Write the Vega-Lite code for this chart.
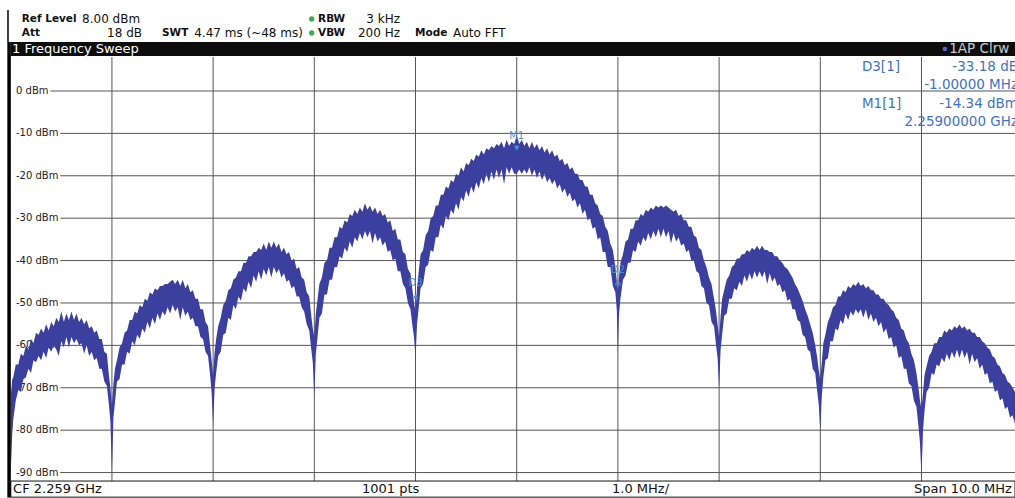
{
"$schema": "https://vega.github.io/schema/vega-lite/v6.json",
"width": 1015, "height": 498,
"autosize": {"type": "none"},
"padding": 0,
"background": "white",
"config": {"view": {"stroke": null}, "axis": {"disable": true}, "font": "DejaVu Sans"},
"datasets": {
"trace": [
{"f":-5.000,"lo":-90,"hi":-72},{"f":-4.985,"lo":-81,"hi":-68},{"f":-4.975,"lo":-77.5,"hi":-67.5},{"f":-4.950,"lo":-73,"hi":-64.5},{"f":-4.925,"lo":-70.5,"hi":-64.5},{"f":-4.900,"lo":-71,"hi":-62},{"f":-4.875,"lo":-68,"hi":-62.5},{"f":-4.850,"lo":-67.5,"hi":-60},{"f":-4.825,"lo":-65.5,"hi":-61},{"f":-4.800,"lo":-66.5,"hi":-58.5},{"f":-4.775,"lo":-63.5,"hi":-59.5},{"f":-4.750,"lo":-64,"hi":-57},{"f":-4.725,"lo":-62.5,"hi":-57.5},{"f":-4.700,"lo":-63.5,"hi":-56},{"f":-4.675,"lo":-61.5,"hi":-57},{"f":-4.650,"lo":-63,"hi":-55},{"f":-4.625,"lo":-60.5,"hi":-56.5},{"f":-4.600,"lo":-61.5,"hi":-54.5},{"f":-4.575,"lo":-60,"hi":-55.5},{"f":-4.550,"lo":-61,"hi":-53.5},{"f":-4.525,"lo":-62.5,"hi":-54.5},{"f":-4.500,"lo":-59,"hi":-52},{"f":-4.475,"lo":-60.5,"hi":-54.5},{"f":-4.450,"lo":-58,"hi":-52.5},{"f":-4.425,"lo":-60.5,"hi":-54},{"f":-4.400,"lo":-58,"hi":-52},{"f":-4.375,"lo":-59.5,"hi":-54},{"f":-4.350,"lo":-58.5,"hi":-52.5},{"f":-4.325,"lo":-60,"hi":-54.5},{"f":-4.300,"lo":-59.5,"hi":-53.5},{"f":-4.275,"lo":-62,"hi":-55},{"f":-4.250,"lo":-60,"hi":-54},{"f":-4.225,"lo":-62.5,"hi":-56},{"f":-4.200,"lo":-61.5,"hi":-55.5},{"f":-4.175,"lo":-63.5,"hi":-57},{"f":-4.150,"lo":-63,"hi":-56.5},{"f":-4.125,"lo":-65.5,"hi":-58.5},{"f":-4.100,"lo":-65.5,"hi":-58.5},{"f":-4.075,"lo":-68.5,"hi":-61.5},{"f":-4.050,"lo":-69.5,"hi":-62},{"f":-4.030,"lo":-74,"hi":-67},{"f":-4.015,"lo":-78,"hi":-70},{"f":-4.000,"lo":-90,"hi":-74},{"f":-3.985,"lo":-77,"hi":-69},{"f":-3.970,"lo":-73.5,"hi":-65.5},{"f":-3.950,"lo":-68.5,"hi":-63.5},{"f":-3.925,"lo":-68,"hi":-60.5},{"f":-3.900,"lo":-64.5,"hi":-59.5},{"f":-3.875,"lo":-64.5,"hi":-57},{"f":-3.850,"lo":-61.5,"hi":-56.5},{"f":-3.825,"lo":-62,"hi":-54},{"f":-3.800,"lo":-59,"hi":-54},{"f":-3.775,"lo":-60,"hi":-52},{"f":-3.750,"lo":-57.5,"hi":-52.5},{"f":-3.725,"lo":-58.5,"hi":-50.5},{"f":-3.700,"lo":-56,"hi":-51},{"f":-3.675,"lo":-57,"hi":-49},{"f":-3.650,"lo":-54.5,"hi":-49.5},{"f":-3.625,"lo":-56,"hi":-47.5},{"f":-3.600,"lo":-53.5,"hi":-48},{"f":-3.575,"lo":-55,"hi":-46.5},{"f":-3.550,"lo":-52.5,"hi":-47},{"f":-3.525,"lo":-54,"hi":-46},{"f":-3.500,"lo":-52,"hi":-46},{"f":-3.475,"lo":-53,"hi":-45.5},{"f":-3.450,"lo":-51,"hi":-45.5},{"f":-3.425,"lo":-52.5,"hi":-45},{"f":-3.400,"lo":-50.5,"hi":-44.5},{"f":-3.375,"lo":-52,"hi":-45.5},{"f":-3.350,"lo":-51,"hi":-44.5},{"f":-3.325,"lo":-54,"hi":-46},{"f":-3.300,"lo":-51,"hi":-44.5},{"f":-3.275,"lo":-53,"hi":-46.5},{"f":-3.250,"lo":-52,"hi":-45.5},{"f":-3.225,"lo":-54,"hi":-47.5},{"f":-3.200,"lo":-53.5,"hi":-47},{"f":-3.175,"lo":-55.5,"hi":-49},{"f":-3.150,"lo":-55.5,"hi":-49},{"f":-3.125,"lo":-58,"hi":-51.5},{"f":-3.100,"lo":-58.5,"hi":-51.5},{"f":-3.075,"lo":-61.5,"hi":-54.5},{"f":-3.050,"lo":-62.5,"hi":-55.5},{"f":-3.030,"lo":-67,"hi":-60},{"f":-3.015,"lo":-71,"hi":-63.5},{"f":-3.000,"lo":-79,"hi":-67},{"f":-2.985,"lo":-70,"hi":-61.5},{"f":-2.970,"lo":-66.5,"hi":-58.5},{"f":-2.950,"lo":-62.5,"hi":-55.5},{"f":-2.925,"lo":-61.5,"hi":-53.5},{"f":-2.900,"lo":-57.5,"hi":-50.5},{"f":-2.875,"lo":-57,"hi":-49.5},{"f":-2.850,"lo":-53.5,"hi":-47},{"f":-2.825,"lo":-54,"hi":-46.5},{"f":-2.800,"lo":-50.5,"hi":-44.5},{"f":-2.775,"lo":-51.5,"hi":-44},{"f":-2.750,"lo":-48.5,"hi":-42.5},{"f":-2.725,"lo":-49.5,"hi":-42.5},{"f":-2.700,"lo":-46.5,"hi":-40.5},{"f":-2.675,"lo":-47.5,"hi":-40.5},{"f":-2.650,"lo":-45,"hi":-39},{"f":-2.625,"lo":-46.5,"hi":-39},{"f":-2.600,"lo":-43.5,"hi":-38},{"f":-2.575,"lo":-45,"hi":-38},{"f":-2.550,"lo":-42.5,"hi":-37},{"f":-2.525,"lo":-44.5,"hi":-37.5},{"f":-2.500,"lo":-42,"hi":-36},{"f":-2.475,"lo":-43.5,"hi":-37.5},{"f":-2.450,"lo":-41.5,"hi":-35.5},{"f":-2.425,"lo":-44,"hi":-37},{"f":-2.400,"lo":-41.5,"hi":-35.5},{"f":-2.375,"lo":-43,"hi":-37},{"f":-2.350,"lo":-42,"hi":-36},{"f":-2.325,"lo":-44,"hi":-38},{"f":-2.300,"lo":-43,"hi":-37},{"f":-2.275,"lo":-45,"hi":-38.5},{"f":-2.250,"lo":-44.5,"hi":-38},{"f":-2.225,"lo":-46.5,"hi":-40},{"f":-2.200,"lo":-46,"hi":-39.5},{"f":-2.175,"lo":-48.5,"hi":-42},{"f":-2.150,"lo":-48.5,"hi":-41.5},{"f":-2.125,"lo":-51,"hi":-44},{"f":-2.100,"lo":-52,"hi":-44.5},{"f":-2.075,"lo":-55,"hi":-47.5},{"f":-2.050,"lo":-56.5,"hi":-48.5},{"f":-2.030,"lo":-61,"hi":-53},{"f":-2.015,"lo":-64,"hi":-56},{"f":-2.000,"lo":-72,"hi":-58},{"f":-1.985,"lo":-62,"hi":-52.5},{"f":-1.970,"lo":-58.5,"hi":-49.5},{"f":-1.950,"lo":-53.5,"hi":-45.5},{"f":-1.925,"lo":-52.5,"hi":-44},{"f":-1.900,"lo":-48,"hi":-40.5},{"f":-1.875,"lo":-48,"hi":-40},{"f":-1.850,"lo":-44.5,"hi":-37},{"f":-1.825,"lo":-44.5,"hi":-37},{"f":-1.800,"lo":-41.5,"hi":-34.5},{"f":-1.775,"lo":-41.5,"hi":-34.5},{"f":-1.750,"lo":-39,"hi":-32},{"f":-1.725,"lo":-39.5,"hi":-32.5},{"f":-1.700,"lo":-37,"hi":-30.5},{"f":-1.675,"lo":-38,"hi":-31},{"f":-1.650,"lo":-35.5,"hi":-29},{"f":-1.625,"lo":-37,"hi":-29.5},{"f":-1.600,"lo":-34.5,"hi":-28},{"f":-1.575,"lo":-35.5,"hi":-29},{"f":-1.550,"lo":-33.5,"hi":-27.5},{"f":-1.525,"lo":-35,"hi":-28.5},{"f":-1.500,"lo":-33,"hi":-26.5},{"f":-1.475,"lo":-34.5,"hi":-28},{"f":-1.450,"lo":-33,"hi":-27},{"f":-1.425,"lo":-36,"hi":-28.5},{"f":-1.400,"lo":-33.5,"hi":-27.5},{"f":-1.375,"lo":-35.5,"hi":-29},{"f":-1.350,"lo":-34.5,"hi":-28},{"f":-1.325,"lo":-36.5,"hi":-29.5},{"f":-1.300,"lo":-35.5,"hi":-29},{"f":-1.275,"lo":-38,"hi":-31},{"f":-1.250,"lo":-37.5,"hi":-30.5},{"f":-1.225,"lo":-40,"hi":-33},{"f":-1.200,"lo":-39.5,"hi":-32.5},{"f":-1.175,"lo":-42.5,"hi":-35},{"f":-1.150,"lo":-42.5,"hi":-35},{"f":-1.125,"lo":-45.5,"hi":-38},{"f":-1.100,"lo":-46.5,"hi":-38.5},{"f":-1.075,"lo":-50,"hi":-42},{"f":-1.050,"lo":-51.5,"hi":-43},{"f":-1.030,"lo":-55.5,"hi":-47},{"f":-1.015,"lo":-58,"hi":-50},{"f":-1.000,"lo":-63,"hi":-52},{"f":-0.985,"lo":-55,"hi":-46.5},{"f":-0.970,"lo":-51.5,"hi":-43},{"f":-0.950,"lo":-46.5,"hi":-38.5},{"f":-0.925,"lo":-45.5,"hi":-37.5},{"f":-0.900,"lo":-41.5,"hi":-34},{"f":-0.875,"lo":-41,"hi":-33},{"f":-0.850,"lo":-37.5,"hi":-30},{"f":-0.825,"lo":-38,"hi":-29.5},{"f":-0.800,"lo":-34.5,"hi":-27},{"f":-0.775,"lo":-34.5,"hi":-27},{"f":-0.750,"lo":-31.5,"hi":-24.5},{"f":-0.725,"lo":-32.5,"hi":-24.5},{"f":-0.700,"lo":-29.5,"hi":-22.5},{"f":-0.675,"lo":-30.5,"hi":-23},{"f":-0.650,"lo":-28,"hi":-21},{"f":-0.625,"lo":-29,"hi":-21.5},{"f":-0.600,"lo":-26.5,"hi":-19.5},{"f":-0.575,"lo":-28,"hi":-20},{"f":-0.550,"lo":-25,"hi":-18},{"f":-0.525,"lo":-26,"hi":-19},{"f":-0.500,"lo":-23.5,"hi":-17},{"f":-0.475,"lo":-25,"hi":-17.5},{"f":-0.450,"lo":-22.5,"hi":-16},{"f":-0.425,"lo":-24,"hi":-16.5},{"f":-0.400,"lo":-21.5,"hi":-15},{"f":-0.375,"lo":-23,"hi":-15.5},{"f":-0.350,"lo":-20.5,"hi":-14},{"f":-0.325,"lo":-22,"hi":-15},{"f":-0.300,"lo":-19.5,"hi":-13.5},{"f":-0.275,"lo":-21.5,"hi":-14},{"f":-0.250,"lo":-19,"hi":-13},{"f":-0.225,"lo":-21,"hi":-13.5},{"f":-0.200,"lo":-18.5,"hi":-12.5},{"f":-0.175,"lo":-20.5,"hi":-13},{"f":-0.150,"lo":-18.5,"hi":-12},{"f":-0.125,"lo":-22,"hi":-13.5},{"f":-0.100,"lo":-18,"hi":-11.5},{"f":-0.075,"lo":-19.5,"hi":-13},{"f":-0.050,"lo":-18,"hi":-12},{"f":-0.025,"lo":-19.5,"hi":-12.5},{"f":0.000,"lo":-19.5,"hi":-10.5},{"f":0.025,"lo":-18.5,"hi":-12.5},{"f":0.050,"lo":-19.5,"hi":-11.5},{"f":0.075,"lo":-18.5,"hi":-13},{"f":0.100,"lo":-19.5,"hi":-12},{"f":0.125,"lo":-18,"hi":-13.5},{"f":0.150,"lo":-20,"hi":-12},{"f":0.175,"lo":-18.5,"hi":-13.5},{"f":0.200,"lo":-20.5,"hi":-12.5},{"f":0.225,"lo":-19,"hi":-14},{"f":0.250,"lo":-21,"hi":-13},{"f":0.275,"lo":-19.5,"hi":-14.5},{"f":0.300,"lo":-21.5,"hi":-13.5},{"f":0.325,"lo":-20.5,"hi":-15},{"f":0.350,"lo":-22,"hi":-14},{"f":0.375,"lo":-21,"hi":-15.5},{"f":0.400,"lo":-23,"hi":-15},{"f":0.425,"lo":-22,"hi":-16.5},{"f":0.450,"lo":-24,"hi":-16},{"f":0.475,"lo":-23,"hi":-17.5},{"f":0.500,"lo":-25,"hi":-17},{"f":0.525,"lo":-24,"hi":-18.5},{"f":0.550,"lo":-26,"hi":-18},{"f":0.575,"lo":-25.5,"hi":-19.5},{"f":0.600,"lo":-27.5,"hi":-19.5},{"f":0.625,"lo":-26.5,"hi":-21},{"f":0.650,"lo":-29,"hi":-21},{"f":0.675,"lo":-28,"hi":-22.5},{"f":0.700,"lo":-30.5,"hi":-22.5},{"f":0.725,"lo":-30,"hi":-24.5},{"f":0.750,"lo":-32.5,"hi":-24.5},{"f":0.775,"lo":-32,"hi":-26.5},{"f":0.800,"lo":-35,"hi":-27},{"f":0.825,"lo":-34.5,"hi":-29},{"f":0.850,"lo":-38,"hi":-29.5},{"f":0.875,"lo":-38,"hi":-32},{"f":0.900,"lo":-41.5,"hi":-33},{"f":0.925,"lo":-41.5,"hi":-36},{"f":0.950,"lo":-46,"hi":-37.5},{"f":0.975,"lo":-47.5,"hi":-41.5},{"f":0.990,"lo":-52,"hi":-45},{"f":1.000,"lo":-62,"hi":-47},{"f":1.010,"lo":-53,"hi":-44},{"f":1.025,"lo":-49,"hi":-40.5},{"f":1.050,"lo":-44.5,"hi":-38.5},{"f":1.075,"lo":-43.5,"hi":-35.5},{"f":1.100,"lo":-40.5,"hi":-35},{"f":1.125,"lo":-40.5,"hi":-32.5},{"f":1.150,"lo":-37.5,"hi":-32.5},{"f":1.175,"lo":-38,"hi":-30.5},{"f":1.200,"lo":-35.5,"hi":-30.5},{"f":1.225,"lo":-36.5,"hi":-29},{"f":1.250,"lo":-34.5,"hi":-29.5},{"f":1.275,"lo":-35.5,"hi":-28},{"f":1.300,"lo":-33.5,"hi":-28.5},{"f":1.325,"lo":-35,"hi":-27.5},{"f":1.350,"lo":-33,"hi":-28},{"f":1.375,"lo":-34.5,"hi":-27},{"f":1.400,"lo":-32.5,"hi":-27.5},{"f":1.425,"lo":-34.5,"hi":-27},{"f":1.450,"lo":-32.5,"hi":-27.5},{"f":1.475,"lo":-34.5,"hi":-27},{"f":1.500,"lo":-33,"hi":-27.5},{"f":1.525,"lo":-36,"hi":-28},{"f":1.550,"lo":-33.5,"hi":-28.5},{"f":1.575,"lo":-35.5,"hi":-28},{"f":1.600,"lo":-34.5,"hi":-29.5},{"f":1.625,"lo":-36.5,"hi":-29},{"f":1.650,"lo":-36,"hi":-30.5},{"f":1.675,"lo":-38,"hi":-30.5},{"f":1.700,"lo":-37.5,"hi":-32},{"f":1.725,"lo":-40,"hi":-32},{"f":1.750,"lo":-40,"hi":-34},{"f":1.775,"lo":-42.5,"hi":-34.5},{"f":1.800,"lo":-43,"hi":-37},{"f":1.825,"lo":-46,"hi":-37.5},{"f":1.850,"lo":-46.5,"hi":-40},{"f":1.875,"lo":-50,"hi":-41.5},{"f":1.900,"lo":-50.5,"hi":-44},{"f":1.925,"lo":-54.5,"hi":-45.5},{"f":1.950,"lo":-55.5,"hi":-49},{"f":1.970,"lo":-60,"hi":-52},{"f":1.985,"lo":-63,"hi":-55},{"f":2.000,"lo":-70,"hi":-58},{"f":2.015,"lo":-61,"hi":-53},{"f":2.030,"lo":-57.5,"hi":-49},{"f":2.050,"lo":-53,"hi":-47},{"f":2.075,"lo":-52.5,"hi":-44.5},{"f":2.100,"lo":-49,"hi":-43.5},{"f":2.125,"lo":-49,"hi":-41.5},{"f":2.150,"lo":-46.5,"hi":-41},{"f":2.175,"lo":-47,"hi":-39.5},{"f":2.200,"lo":-45,"hi":-39.5},{"f":2.225,"lo":-46,"hi":-38.5},{"f":2.250,"lo":-43.5,"hi":-38.5},{"f":2.275,"lo":-45,"hi":-37.5},{"f":2.300,"lo":-43,"hi":-38},{"f":2.325,"lo":-44.5,"hi":-37},{"f":2.350,"lo":-42.5,"hi":-37.5},{"f":2.375,"lo":-44,"hi":-36.5},{"f":2.400,"lo":-42.5,"hi":-37.5},{"f":2.425,"lo":-44,"hi":-36.5},{"f":2.450,"lo":-42.5,"hi":-37.5},{"f":2.475,"lo":-45.5,"hi":-37.5},{"f":2.500,"lo":-43,"hi":-38},{"f":2.525,"lo":-45,"hi":-38},{"f":2.550,"lo":-44,"hi":-39},{"f":2.575,"lo":-46,"hi":-39},{"f":2.600,"lo":-45.5,"hi":-40},{"f":2.625,"lo":-47.5,"hi":-40.5},{"f":2.650,"lo":-47,"hi":-41.5},{"f":2.675,"lo":-49.5,"hi":-42},{"f":2.700,"lo":-49,"hi":-43},{"f":2.725,"lo":-51.5,"hi":-44},{"f":2.750,"lo":-51.5,"hi":-45.5},{"f":2.775,"lo":-54,"hi":-46.5},{"f":2.800,"lo":-54.5,"hi":-48},{"f":2.825,"lo":-57.5,"hi":-49.5},{"f":2.850,"lo":-58,"hi":-51.5},{"f":2.875,"lo":-61,"hi":-53},{"f":2.900,"lo":-61.5,"hi":-55},{"f":2.925,"lo":-65.5,"hi":-57},{"f":2.950,"lo":-66.5,"hi":-60},{"f":2.970,"lo":-71,"hi":-63},{"f":2.985,"lo":-74,"hi":-66},{"f":3.000,"lo":-80,"hi":-68},{"f":3.015,"lo":-72,"hi":-64},{"f":3.030,"lo":-67.5,"hi":-59.5},{"f":3.050,"lo":-63.5,"hi":-57.5},{"f":3.075,"lo":-63,"hi":-54.5},{"f":3.100,"lo":-59,"hi":-53},{"f":3.125,"lo":-59,"hi":-51},{"f":3.150,"lo":-56,"hi":-50.5},{"f":3.175,"lo":-56.5,"hi":-48.5},{"f":3.200,"lo":-54,"hi":-48.5},{"f":3.225,"lo":-55,"hi":-47},{"f":3.250,"lo":-52.5,"hi":-47.5},{"f":3.275,"lo":-54,"hi":-46},{"f":3.300,"lo":-52,"hi":-46.5},{"f":3.325,"lo":-53,"hi":-45.5},{"f":3.350,"lo":-51.5,"hi":-46},{"f":3.375,"lo":-52.5,"hi":-45},{"f":3.400,"lo":-51.5,"hi":-46},{"f":3.425,"lo":-53.5,"hi":-45.5},{"f":3.450,"lo":-51.5,"hi":-46.5},{"f":3.475,"lo":-54,"hi":-46},{"f":3.500,"lo":-52.5,"hi":-47},{"f":3.525,"lo":-54.5,"hi":-47},{"f":3.550,"lo":-53.5,"hi":-48},{"f":3.575,"lo":-55.5,"hi":-48},{"f":3.600,"lo":-54.5,"hi":-49},{"f":3.625,"lo":-57,"hi":-49},{"f":3.650,"lo":-56,"hi":-50},{"f":3.675,"lo":-58.5,"hi":-50.5},{"f":3.700,"lo":-58,"hi":-51.5},{"f":3.725,"lo":-60.5,"hi":-52},{"f":3.750,"lo":-60,"hi":-53.5},{"f":3.775,"lo":-63,"hi":-54},{"f":3.800,"lo":-62.5,"hi":-56},{"f":3.825,"lo":-65.5,"hi":-56.5},{"f":3.850,"lo":-65.5,"hi":-58.5},{"f":3.875,"lo":-69,"hi":-59.5},{"f":3.900,"lo":-69.5,"hi":-62},{"f":3.925,"lo":-73,"hi":-63.5},{"f":3.950,"lo":-74.5,"hi":-66.5},{"f":3.970,"lo":-79,"hi":-70},{"f":3.985,"lo":-83,"hi":-73},{"f":4.000,"lo":-91,"hi":-75},{"f":4.015,"lo":-80,"hi":-71},{"f":4.030,"lo":-75.5,"hi":-67},{"f":4.050,"lo":-71,"hi":-65},{"f":4.075,"lo":-70,"hi":-62.5},{"f":4.100,"lo":-66.5,"hi":-61.5},{"f":4.125,"lo":-67,"hi":-59.5},{"f":4.150,"lo":-64.5,"hi":-59.5},{"f":4.175,"lo":-65,"hi":-58},{"f":4.200,"lo":-63,"hi":-58},{"f":4.225,"lo":-64,"hi":-56.5},{"f":4.250,"lo":-62,"hi":-57},{"f":4.275,"lo":-63.5,"hi":-56},{"f":4.300,"lo":-61.5,"hi":-56.5},{"f":4.325,"lo":-63,"hi":-55.5},{"f":4.350,"lo":-61,"hi":-56},{"f":4.375,"lo":-63,"hi":-55},{"f":4.400,"lo":-61,"hi":-56},{"f":4.425,"lo":-63,"hi":-55.5},{"f":4.450,"lo":-61.5,"hi":-56.5},{"f":4.475,"lo":-64.5,"hi":-56},{"f":4.500,"lo":-62,"hi":-57},{"f":4.525,"lo":-64,"hi":-57},{"f":4.550,"lo":-63,"hi":-58},{"f":4.575,"lo":-65.5,"hi":-58},{"f":4.600,"lo":-64.5,"hi":-59},{"f":4.625,"lo":-67,"hi":-59.5},{"f":4.650,"lo":-66.5,"hi":-60.5},{"f":4.675,"lo":-69,"hi":-61},{"f":4.700,"lo":-68.5,"hi":-62.5},{"f":4.725,"lo":-71,"hi":-63},{"f":4.750,"lo":-70.5,"hi":-64.5},{"f":4.775,"lo":-73,"hi":-65},{"f":4.800,"lo":-72.5,"hi":-66.5},{"f":4.825,"lo":-75,"hi":-67},{"f":4.850,"lo":-74.5,"hi":-68.5},{"f":4.875,"lo":-77,"hi":-69},{"f":4.900,"lo":-76.5,"hi":-70},{"f":4.924,"lo":-78.5,"hi":-71}
],
"hgrid": [
{"v":0,"label":"0 dBm"},{"v":-10,"label":"-10 dBm"},{"v":-20,"label":"-20 dBm"},{"v":-30,"label":"-30 dBm"},{"v":-40,"label":"-40 dBm"},{"v":-50,"label":"-50 dBm"},{"v":-60,"label":"-60 dBm"},{"v":-70,"label":"-70 dBm"},{"v":-80,"label":"-80 dBm"},{"v":-90,"label":"-90 dBm"}
],
"vgrid": [{"f":-4},{"f":-3},{"f":-2},{"f":-1},{"f":0},{"f":1},{"f":2},{"f":3},{"f":4}]
},
"layer": [
{"data": {"name": "vgrid"}, "mark": {"type": "rule", "color": "#555555", "strokeWidth": 1},
 "encoding": {"x": {"field": "f", "type": "quantitative", "scale": {"domain": [-5.106, 4.924], "nice": false, "zero": false}},
   "y": {"datum": -92, "scale": {"domain": [-96, 21.46], "nice": false, "zero": false}}, "y2": {"datum": 8}}},
{"data": {"name": "hgrid"}, "mark": {"type": "rule", "color": "#555555", "strokeWidth": 1},
 "encoding": {"x": {"datum": -4.967}, "x2": {"datum": 4.924}, "y": {"field": "v", "type": "quantitative"}}},
{"data": {"name": "hgrid"}, "mark": {"type": "text", "align": "left", "baseline": "middle", "fontSize": 10, "fill": "white", "stroke": "white", "strokeWidth": 5, "strokeJoin": "round"},
 "encoding": {"x": {"datum": -4.948}, "y": {"field": "v", "type": "quantitative"}, "text": {"field": "label"}}},
{"data": {"name": "hgrid"}, "mark": {"type": "text", "align": "left", "baseline": "middle", "fontSize": 10, "fill": "#222222"},
 "encoding": {"x": {"datum": -4.948}, "y": {"field": "v", "type": "quantitative"}, "text": {"field": "label"}}},
{"data": {"name": "trace"}, "mark": {"type": "area", "color": "#3b3f9d", "opacity": 1, "clip": true},
 "encoding": {"x": {"field": "f", "type": "quantitative"}, "y": {"field": "lo", "type": "quantitative"}, "y2": {"field": "hi"}}},
{"data": {"values": [{}]}, "mark": {"type": "text", "text": "M1", "fontSize": 10, "align": "center", "baseline": "middle", "color": "#4a8fd6"},
 "encoding": {"x": {"datum": 0}, "y": {"datum": -10.6}}},
{"data": {"values": [{}]}, "mark": {"type": "point", "shape": "triangle-down", "filled": true, "size": 35, "color": "#4a8fd6", "opacity": 1},
 "encoding": {"x": {"datum": 0}, "y": {"datum": -13.5}}},
{"data": {"values": [{}]}, "mark": {"type": "text", "text": "D3", "fontSize": 10, "align": "center", "baseline": "middle", "color": "#4a8fd6"},
 "encoding": {"x": {"datum": -1}, "y": {"datum": -45.4}}},
{"data": {"values": [{}]}, "mark": {"type": "point", "shape": "triangle-up", "filled": true, "size": 30, "color": "#4a8fd6", "opacity": 1},
 "encoding": {"x": {"datum": -1}, "y": {"datum": -48.4}}},
{"data": {"values": [{}]}, "mark": {"type": "text", "text": "D2", "fontSize": 10, "align": "center", "baseline": "middle", "color": "#4a8fd6"},
 "encoding": {"x": {"datum": 1}, "y": {"datum": -42.2}}},
{"data": {"values": [{}]}, "mark": {"type": "point", "shape": "triangle-up", "filled": false, "size": 30, "color": "#4a8fd6", "strokeWidth": 1, "opacity": 1},
 "encoding": {"x": {"datum": 1}, "y": {"datum": -45.2}}},
{"data": {"values": [{}]}, "mark": {"type": "text", "text": "D3[1]", "fontSize": 13.5, "align": "left", "baseline": "middle", "color": "#3f74bd"},
 "encoding": {"x": {"datum": 3.411}, "y": {"datum": 5.66}}},
{"data": {"values": [{}]}, "mark": {"type": "text", "text": "-33.18 dB", "fontSize": 13.5, "align": "right", "baseline": "middle", "dx": 3, "color": "#3f74bd"},
 "encoding": {"x": {"datum": 4.924}, "y": {"datum": 5.66}}},
{"data": {"values": [{}]}, "mark": {"type": "text", "text": "-1.00000 MHz", "fontSize": 13.5, "align": "right", "baseline": "middle", "dx": 3, "color": "#3f74bd"},
 "encoding": {"x": {"datum": 4.924}, "y": {"datum": 1.42}}},
{"data": {"values": [{}]}, "mark": {"type": "text", "text": "M1[1]", "fontSize": 13.5, "align": "left", "baseline": "middle", "color": "#3f74bd"},
 "encoding": {"x": {"datum": 3.411}, "y": {"datum": -3.07}}},
{"data": {"values": [{}]}, "mark": {"type": "text", "text": "-14.34 dBm", "fontSize": 13.5, "align": "right", "baseline": "middle", "dx": 3, "color": "#3f74bd"},
 "encoding": {"x": {"datum": 4.924}, "y": {"datum": -3.07}}},
{"data": {"values": [{}]}, "mark": {"type": "text", "text": "2.25900000 GHz", "fontSize": 13.5, "align": "right", "baseline": "middle", "dx": 3, "color": "#3f74bd"},
 "encoding": {"x": {"datum": 4.924}, "y": {"datum": -7.31}}},
{"data": {"values": [{}]}, "mark": {"type": "rect", "color": "#0d0d0d"},
 "encoding": {"x": {"datum": -4.999}, "x2": {"datum": 4.924}, "y": {"datum": 8.25}, "y2": {"datum": 11.56}}},
{"data": {"values": [{}]}, "mark": {"type": "text", "text": "1 Frequency Sweep", "fontSize": 13, "align": "left", "baseline": "middle", "color": "white"},
 "encoding": {"x": {"datum": -4.987}, "y": {"datum": 9.9}}},
{"data": {"values": [{}]}, "mark": {"type": "point", "shape": "circle", "filled": true, "size": 22, "color": "#5b63c4", "opacity": 1},
 "encoding": {"x": {"datum": 4.231}, "y": {"datum": 9.9}}},
{"data": {"values": [{}]}, "mark": {"type": "text", "text": "1AP Clrw", "fontSize": 13.5, "align": "left", "baseline": "middle", "color": "#c9c9c9"},
 "encoding": {"x": {"datum": 4.274}, "y": {"datum": 9.9}}},
{"data": {"values": [{}]}, "mark": {"type": "rect", "fill": "white", "stroke": "#111111", "strokeWidth": 1},
 "encoding": {"x": {"datum": -4.999}, "x2": {"datum": 4.924}, "y": {"datum": -92}, "y2": {"datum": -95.8}}},
{"data": {"values": [{}]}, "mark": {"type": "text", "text": "CF 2.259 GHz", "fontSize": 13, "align": "left", "baseline": "middle", "color": "#111111"},
 "encoding": {"x": {"datum": -4.977}, "y": {"datum": -93.95}}},
{"data": {"values": [{}]}, "mark": {"type": "text", "text": "1001 pts", "fontSize": 13, "align": "left", "baseline": "middle", "color": "#111111"},
 "encoding": {"x": {"datum": -1.529}, "y": {"datum": -93.95}}},
{"data": {"values": [{}]}, "mark": {"type": "text", "text": "1.0 MHz/", "fontSize": 13, "align": "left", "baseline": "middle", "color": "#111111"},
 "encoding": {"x": {"datum": 0.942}, "y": {"datum": -93.95}}},
{"data": {"values": [{}]}, "mark": {"type": "text", "text": "Span 10.0 MHz", "fontSize": 13, "align": "left", "baseline": "middle", "color": "#111111"},
 "encoding": {"x": {"datum": 3.926}, "y": {"datum": -93.95}}},
{"data": {"values": [{}]}, "mark": {"type": "rect", "color": "#000000"},
 "encoding": {"x": {"datum": -5.0336}, "x2": {"datum": -4.999}, "y": {"datum": -95.9}, "y2": {"datum": 11.56}}},
{"data": {"values": [{}]}, "mark": {"type": "rule", "color": "#000000", "strokeWidth": 1.5},
 "encoding": {"x": {"datum": -5.027}, "y": {"datum": 11.56}, "y2": {"datum": 19.1}}},
{"data": {"values": [{}]}, "mark": {"type": "text", "text": "Ref Level", "fontSize": 10.5, "fontWeight": "bold", "align": "left", "baseline": "middle", "color": "#111111"},
 "encoding": {"x": {"datum": -4.891}, "y": {"datum": 16.98}}},
{"data": {"values": [{}]}, "mark": {"type": "text", "text": "8.00 dBm", "fontSize": 12, "align": "left", "baseline": "middle", "color": "#111111"},
 "encoding": {"x": {"datum": -4.295}, "y": {"datum": 16.98}}},
{"data": {"values": [{}]}, "mark": {"type": "point", "shape": "circle", "filled": true, "size": 28, "color": "#3fae49", "opacity": 1},
 "encoding": {"x": {"datum": -2.026}, "y": {"datum": 16.98}}},
{"data": {"values": [{}]}, "mark": {"type": "text", "text": "RBW", "fontSize": 10.5, "fontWeight": "bold", "align": "left", "baseline": "middle", "color": "#111111"},
 "encoding": {"x": {"datum": -1.963}, "y": {"datum": 16.98}}},
{"data": {"values": [{}]}, "mark": {"type": "text", "text": "3 kHz", "fontSize": 12, "align": "right", "baseline": "middle", "color": "#111111"},
 "encoding": {"x": {"datum": -1.153}, "y": {"datum": 16.98}}},
{"data": {"values": [{}]}, "mark": {"type": "text", "text": "Att", "fontSize": 10.5, "fontWeight": "bold", "align": "left", "baseline": "middle", "color": "#111111"},
 "encoding": {"x": {"datum": -4.891}, "y": {"datum": 13.68}}},
{"data": {"values": [{}]}, "mark": {"type": "text", "text": "18 dB", "fontSize": 12, "align": "right", "baseline": "middle", "color": "#111111"},
 "encoding": {"x": {"datum": -3.703}, "y": {"datum": 13.68}}},
{"data": {"values": [{}]}, "mark": {"type": "text", "text": "SWT", "fontSize": 10.5, "fontWeight": "bold", "align": "left", "baseline": "middle", "color": "#111111"},
 "encoding": {"x": {"datum": -3.505}, "y": {"datum": 13.68}}},
{"data": {"values": [{}]}, "mark": {"type": "text", "text": "4.47 ms (~48 ms)", "fontSize": 12, "align": "left", "baseline": "middle", "color": "#111111"},
 "encoding": {"x": {"datum": -3.187}, "y": {"datum": 13.68}}},
{"data": {"values": [{}]}, "mark": {"type": "point", "shape": "circle", "filled": true, "size": 28, "color": "#3fae49", "opacity": 1},
 "encoding": {"x": {"datum": -2.026}, "y": {"datum": 13.68}}},
{"data": {"values": [{}]}, "mark": {"type": "text", "text": "VBW", "fontSize": 10.5, "fontWeight": "bold", "align": "left", "baseline": "middle", "color": "#111111"},
 "encoding": {"x": {"datum": -1.963}, "y": {"datum": 13.68}}},
{"data": {"values": [{}]}, "mark": {"type": "text", "text": "200 Hz", "fontSize": 12, "align": "right", "baseline": "middle", "color": "#111111"},
 "encoding": {"x": {"datum": -1.153}, "y": {"datum": 13.68}}},
{"data": {"values": [{}]}, "mark": {"type": "text", "text": "Mode", "fontSize": 10.5, "fontWeight": "bold", "align": "left", "baseline": "middle", "color": "#111111"},
 "encoding": {"x": {"datum": -1.005}, "y": {"datum": 13.68}}},
{"data": {"values": [{}]}, "mark": {"type": "text", "text": "Auto FFT", "fontSize": 12, "align": "left", "baseline": "middle", "color": "#111111"},
 "encoding": {"x": {"datum": -0.629}, "y": {"datum": 13.68}}}
]
}
